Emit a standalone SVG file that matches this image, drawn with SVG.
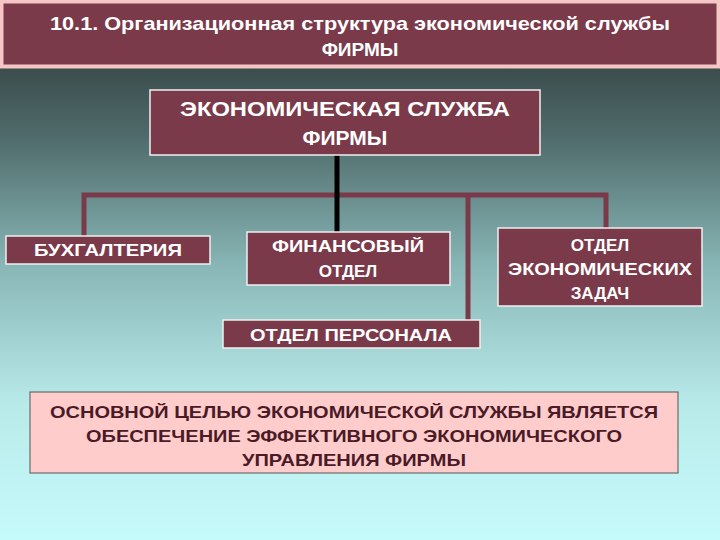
<svg xmlns="http://www.w3.org/2000/svg" width="720" height="540" viewBox="0 0 720 540">
<defs>
<linearGradient id="bg" x1="0" y1="0" x2="0" y2="1">
<stop offset="0" stop-color="#27302f"/>
<stop offset="0.25" stop-color="#4f6a6a"/>
<stop offset="0.5" stop-color="#8ab8b8"/>
<stop offset="0.75" stop-color="#b9eaea"/>
<stop offset="1" stop-color="#c6fbfb"/>
</linearGradient>
</defs>
<style>
.box{fill:#7a3a4a;stroke:#f0f0f0;stroke-width:1.5}
.t{font-family:"Liberation Sans",Arial,sans-serif;fill:#fff;text-anchor:middle;font-weight:bold}
.c{fill:none;stroke:#7a3a4a;stroke-width:5}
</style>
<rect width="720" height="540" fill="url(#bg)"/>
<g id="title">
<rect x="1.5" y="1.5" width="717" height="65" fill="#7a3a4a" stroke="#f6c6c6" stroke-width="4"/>
<text class="t" x="360" y="30" style="font-size:19px" textLength="620" lengthAdjust="spacingAndGlyphs">10.1. Организационная структура экономической службы</text>
<text class="t" x="360" y="56" style="font-size:19px">ФИРМЫ</text>
</g>
<g id="connectors">
<polyline class="c" points="84,236 84,195 606,195 606,228"/>
<line class="c" x1="468" y1="195" x2="468" y2="320"/>
<line x1="337" y1="155" x2="337" y2="233" stroke="#000" stroke-width="5"/>
</g>
<g id="main">
<rect class="box" x="150" y="90" width="390" height="65"/>
<text class="t" x="345" y="116" style="font-size:21px" textLength="330" lengthAdjust="spacingAndGlyphs">ЭКОНОМИЧЕСКАЯ СЛУЖБА</text>
<text class="t" x="345" y="145" style="font-size:21px">ФИРМЫ</text>
</g>
<g id="buh">
<rect class="box" x="6" y="236" width="204" height="28"/>
<text class="t" x="108" y="256" style="font-size:17px" textLength="148" lengthAdjust="spacingAndGlyphs">БУХГАЛТЕРИЯ</text>
</g>
<g id="fin">
<rect class="box" x="247" y="232" width="203" height="53"/>
<text class="t" x="348" y="252" style="font-size:17px" textLength="152" lengthAdjust="spacingAndGlyphs">ФИНАНСОВЫЙ</text>
<text class="t" x="348" y="277" style="font-size:17px">ОТДЕЛ</text>
</g>
<g id="econ">
<rect class="box" x="498" y="228" width="204" height="78"/>
<text class="t" x="600" y="251" style="font-size:17px">ОТДЕЛ</text>
<text class="t" x="600" y="275" style="font-size:17px" textLength="184" lengthAdjust="spacingAndGlyphs">ЭКОНОМИЧЕСКИХ</text>
<text class="t" x="600" y="299" style="font-size:17px">ЗАДАЧ</text>
</g>
<g id="pers">
<rect class="box" x="223" y="320" width="257" height="28"/>
<text class="t" x="351" y="341" style="font-size:17px" textLength="202" lengthAdjust="spacingAndGlyphs">ОТДЕЛ ПЕРСОНАЛА</text>
</g>
<g id="goal">
<rect x="30" y="392" width="648" height="81" fill="#ffcccc" stroke="#555" stroke-width="1"/>
<text class="t" x="354" y="418" style="font-size:17px;fill:#4a1a26" textLength="608" lengthAdjust="spacingAndGlyphs">ОСНОВНОЙ ЦЕЛЬЮ ЭКОНОМИЧЕСКОЙ СЛУЖБЫ ЯВЛЯЕТСЯ</text>
<text class="t" x="354" y="442" style="font-size:17px;fill:#4a1a26" textLength="536" lengthAdjust="spacingAndGlyphs">ОБЕСПЕЧЕНИЕ ЭФФЕКТИВНОГО ЭКОНОМИЧЕСКОГО</text>
<text class="t" x="354" y="466" style="font-size:17px;fill:#4a1a26" textLength="224" lengthAdjust="spacingAndGlyphs">УПРАВЛЕНИЯ ФИРМЫ</text>
</g>
</svg>
